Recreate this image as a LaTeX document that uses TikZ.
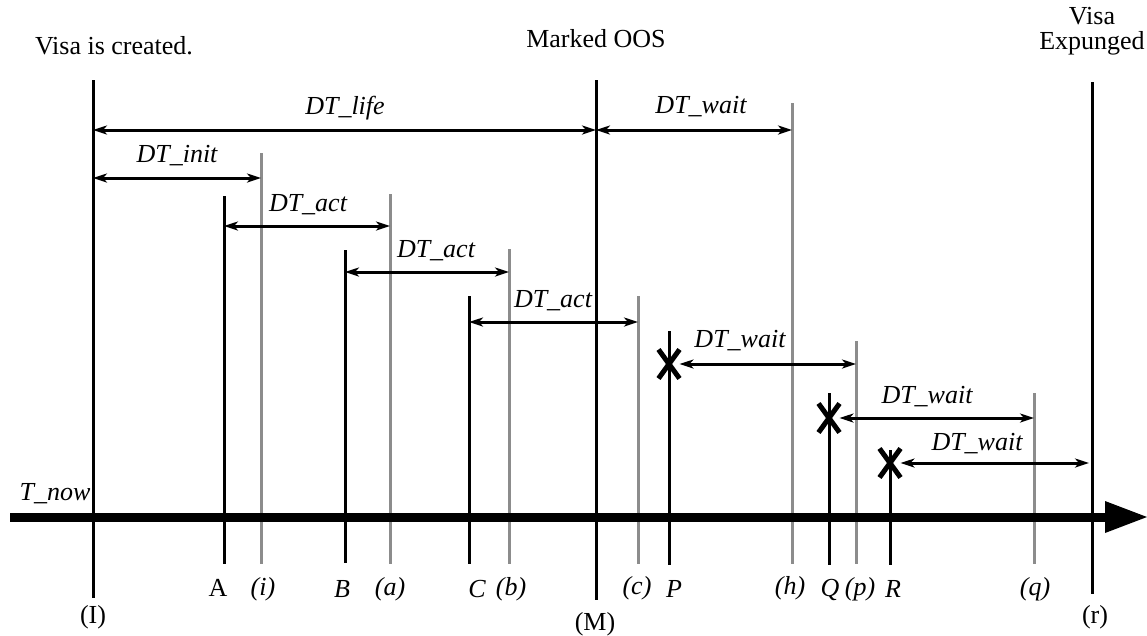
\documentclass[tikz,border=0pt]{standalone}
\usepackage{fontspec}
\setmainfont{Liberation Serif}
\usetikzlibrary{arrows.meta,shapes.misc}
\definecolor{lgray}{RGB}{140,140,140}
\begin{document}
\begin{tikzpicture}[x=1pt,y=-1pt,
  every node/.style={font=\fontsize{26}{29}\selectfont, inner sep=0pt},
  lbl/.style={font=\fontsize{26}{29}\selectfont\itshape},
  blk/.style={line width=3pt, black},
  gry/.style={line width=3pt, lgray},
  dim/.style={line width=3pt, {Stealth[length=14pt,width=9pt,inset=4pt]}-{Stealth[length=14pt,width=9pt,inset=4pt]}},
  xm/.style={cross out, draw, line width=5pt, minimum width=21pt, minimum height=29pt, inner sep=0pt, outer sep=0pt}]
\useasboundingbox (0,0) rectangle (1147,635);

% header texts
\node[anchor=base] (tcreated) at (114,54) {Visa is created.};
\node[anchor=base] (toos) at (596,47) {Marked OOS};
\node[anchor=base] (tvisa) at (1092,24) {Visa};
\node[anchor=base] (texp) at (1092,49) {Expunged};

% black verticals
\coordinate (I-t) at (93,80);   \coordinate (I-b) at (93,598);
\coordinate (A-t) at (224,196); \coordinate (A-b) at (224,564);
\coordinate (B-t) at (345,250); \coordinate (B-b) at (345,563);
\coordinate (C-t) at (469,296); \coordinate (C-b) at (469,564);
\coordinate (M-t) at (596,80);  \coordinate (M-b) at (596,600);
\coordinate (P-t) at (669,331); \coordinate (P-b) at (669,565);
\coordinate (Q-t) at (829,393); \coordinate (Q-b) at (829,565);
\coordinate (R-t) at (890,450); \coordinate (R-b) at (890,565);
\coordinate (r-t) at (1092,82); \coordinate (r-b) at (1092,594);
% gray verticals
\coordinate (i-t) at (261,153); \coordinate (i-b) at (261,564);
\coordinate (a-t) at (390,194); \coordinate (a-b) at (390,564);
\coordinate (b-t) at (509,249); \coordinate (b-b) at (509,564);
\coordinate (c-t) at (638,296); \coordinate (c-b) at (638,564);
\coordinate (h-t) at (792,103); \coordinate (h-b) at (792,564);
\coordinate (p-t) at (856,341); \coordinate (p-b) at (856,564);
\coordinate (q-t) at (1034,393);\coordinate (q-b) at (1034,564);

\foreach \n in {i,a,b,c,h,p,q} \draw[gry] (\n-t) -- (\n-b);
\foreach \n in {I,A,B,C,M,P,Q,R,r} \draw[blk] (\n-t) -- (\n-b);

% time axis
\coordinate (ax-s) at (10,517);
\coordinate (ax-e) at (1105,517);
\coordinate (ax-tip) at (1147,517);
\draw[line width=9pt] (ax-s) -- (ax-e);
\fill (1105,501) -- (ax-tip) -- (1105,533) -- cycle;
\node[lbl] (tnow) at (55,494) {T\_now};

% dimension arrows
\draw[dim] (I-t |- 0,130) -- (M-t |- 0,130);
\node[lbl] (llife) at (345,108) {DT\_life};
\draw[dim] (M-t |- 0,130) -- (h-t |- 0,130);
\node[lbl] (lwait1) at (701,107) {DT\_wait};
\draw[dim] (I-t |- 0,178) -- (i-t |- 0,178);
\node[lbl] (linit) at (177,156) {DT\_init};
\draw[dim] (A-t |- 0,226) -- (a-t |- 0,226);
\node[lbl] (lact1) at (308,205) {DT\_act};
\draw[dim] (B-t |- 0,272) -- (b-t |- 0,272);
\node[lbl] (lact2) at (436,251) {DT\_act};
\draw[dim] (C-t |- 0,322) -- (c-t |- 0,322);
\node[lbl] (lact3) at (553,301) {DT\_act};

% crosses and waits
\node[xm] (xP) at (669,364) {};
\node[xm] (xQ) at (829,418) {};
\node[xm] (xR) at (890,463) {};
\draw[dim] (xP.east) -- (xP.east -| p-t);
\node[lbl] (lwait2) at (740,341) {DT\_wait};
\draw[dim] (xQ.east) -- (xQ.east -| q-t);
\node[lbl] (lwait3) at (927,397) {DT\_wait};
\draw[dim] (xR.east) -- ([xshift=-3pt]xR.east -| r-t);
\node[lbl] (lwait4) at (977,444) {DT\_wait};

% bottom labels
\node (lA) at (218,588) {A};
\node[lbl] (li) at (263,589) {(i)};
\node[lbl] (lB) at (342,589) {B};
\node[lbl] (la) at (390,589) {(a)};
\node[lbl] (lC) at (477,589) {C};
\node[lbl] (lb) at (511,589) {(b)};
\node[lbl] (lc) at (637,588) {(c)};
\node[lbl] (lP) at (674,589) {P};
\node[lbl] (lh) at (790,588) {(h)};
\node[lbl] (lQ) at (830,590) {Q};
\node[lbl] (lp) at (860,589) {(p)};
\node[lbl] (lR) at (893,589) {R};
\node[lbl] (lq) at (1035,589) {(q)};
\node (lI) at (93,617) {(I)};
\node (lM) at (595,624) {(M)};
\node (lr) at (1095,617) {(r)};
\end{tikzpicture}
\end{document}
